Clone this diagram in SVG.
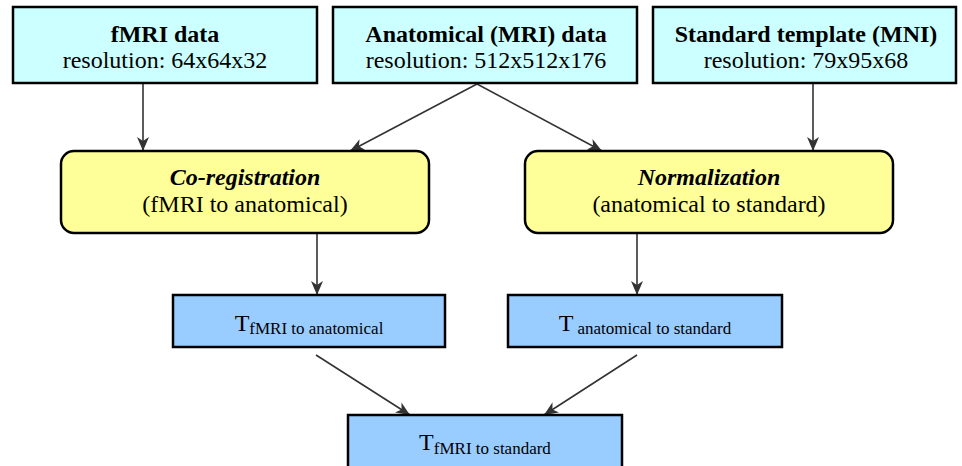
<svg xmlns="http://www.w3.org/2000/svg" width="962" height="466" viewBox="0 0 962 466">
<style>
text{font-family:"Liberation Serif","Times New Roman",serif;fill:#000;text-anchor:middle}
.t{font-size:24px}
.b{font-weight:bold}
.bi{font-weight:bold;font-style:italic}
.sub{font-size:17px}
.top{fill:#ccffff;stroke:#000;stroke-width:2.5}
.mid{fill:#ffff99;stroke:#000;stroke-width:2.5}
.res{fill:#99ccff;stroke:#000;stroke-width:2.5}
.c{stroke:#333;stroke-width:1.6;fill:none;marker-end:url(#ah)}
</style>
<defs>
<marker id="ah" markerUnits="userSpaceOnUse" markerWidth="14" markerHeight="12" viewBox="0 0 14 12" refX="14" refY="6" orient="auto">
<path d="M0,0 L14,6 L0,12 L4,6 z" fill="#333"/>
</marker>
</defs>
<g id="connectors">
<line class="c" x1="143" y1="84" x2="143" y2="151"/>
<line class="c" x1="477" y1="84" x2="350" y2="151"/>
<line class="c" x1="477" y1="84" x2="602" y2="151"/>
<line class="c" x1="813" y1="84" x2="813" y2="151"/>
<line class="c" x1="317" y1="234" x2="317" y2="295"/>
<line class="c" x1="637" y1="234" x2="637" y2="295"/>
<line class="c" x1="316" y1="355" x2="410" y2="415"/>
<line class="c" x1="637" y1="355" x2="544" y2="415"/>
</g>
<g id="fmri">
<rect class="top" x="13" y="7" width="304" height="76"/>
<text class="t b" x="165" y="42">fMRI data</text>
<text class="t" x="165" y="68">resolution: 64x64x32</text>
</g>
<g id="anatomical">
<rect class="top" x="333" y="7" width="304" height="76"/>
<text class="t b" x="486" y="42">Anatomical (MRI) data</text>
<text class="t" x="486" y="68">resolution: 512x512x176</text>
</g>
<g id="standard">
<rect class="top" x="653" y="7" width="303" height="76"/>
<text class="t b" x="806" y="42">Standard template (MNI)</text>
<text class="t" x="806" y="68">resolution: 79x95x68</text>
</g>
<g id="coregistration">
<rect class="mid" x="61" y="151" width="368" height="82" rx="13"/>
<text class="t bi" x="245" y="185">Co-registration</text>
<text class="t" x="245" y="212">(fMRI to anatomical)</text>
</g>
<g id="normalization">
<rect class="mid" x="525" y="151" width="368" height="82" rx="13"/>
<text class="t bi" x="709" y="185">Normalization</text>
<text class="t" x="709" y="212">(anatomical to standard)</text>
</g>
<g id="t-fmri-anat">
<rect class="res" x="173" y="295" width="272" height="52"/>
<text class="t" x="309" y="331">T<tspan class="sub" dy="3">fMRI to anatomical</tspan></text>
</g>
<g id="t-anat-std">
<rect class="res" x="508" y="295" width="274" height="52"/>
<text class="t" x="645" y="331">T<tspan class="sub" dy="3" dx="4">anatomical to standard</tspan></text>
</g>
<g id="t-fmri-std">
<rect class="res" x="348" y="415" width="274" height="60"/>
<text class="t" x="485" y="450">T<tspan class="sub" dy="4">fMRI to standard</tspan></text>
</g>
</svg>
